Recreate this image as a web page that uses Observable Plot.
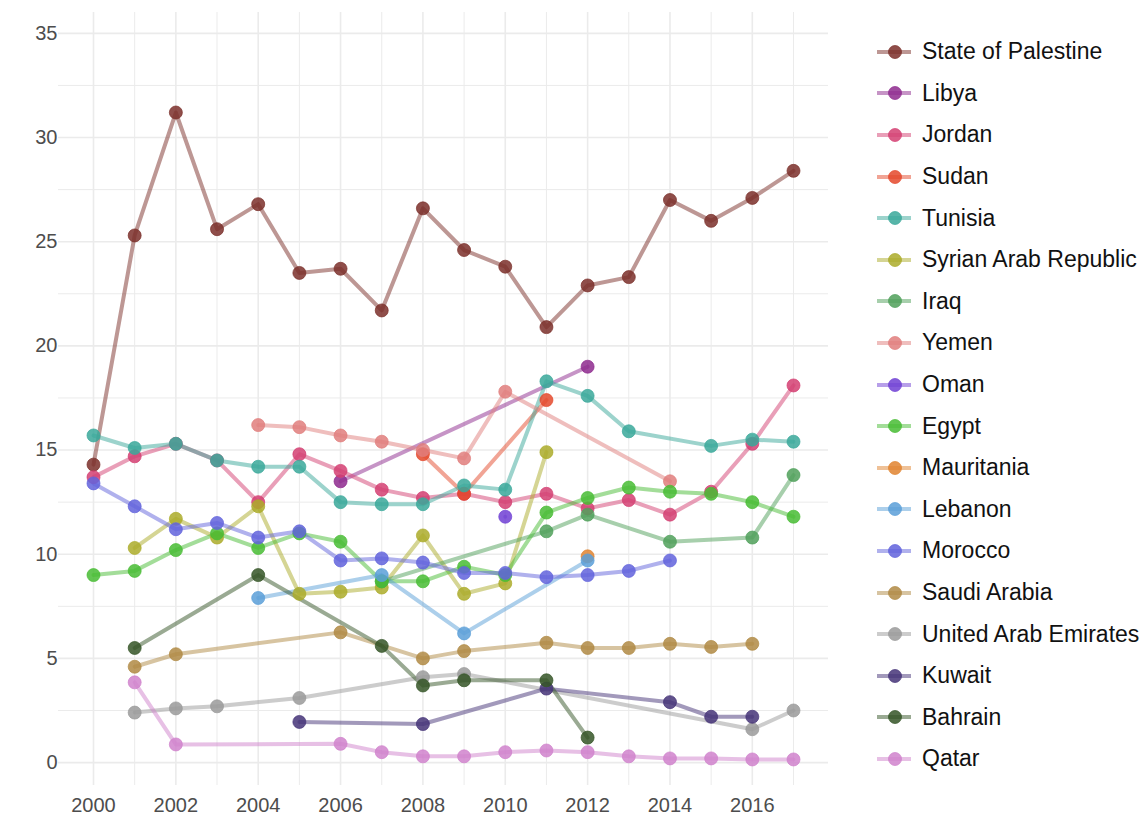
<!DOCTYPE html>
<html>
<head>
<meta charset="utf-8">
<script src="https://cdn.jsdelivr.net/npm/d3@7"></script>
<script src="https://cdn.jsdelivr.net/npm/@observablehq/plot@0.6"></script>
<style>
  html, body { margin: 0; padding: 0; background: #fff; }
  #wrap { position: relative; width: 1145px; height: 816px; font-family: "Liberation Sans", Arial, sans-serif; }
  #chart { position: absolute; left: 0; top: 0; }
  #legend { position: absolute; left: 872px; top: 0; }
  .item { position: absolute; left: 0; height: 30px; display: flex; align-items: center; white-space: nowrap; }
  .item span { font-size: 23px; color: #111; margin-left: 8px; }
</style>
</head>
<body>
<div id="wrap"><div id="chart"></div><div id="legend"></div></div>
<script>
// ---- data ----
const countries = ["State of Palestine","Libya","Jordan","Sudan","Tunisia","Syrian Arab Republic","Iraq","Yemen","Oman","Egypt","Mauritania","Lebanon","Morocco","Saudi Arabia","United Arab Emirates","Kuwait","Bahrain","Qatar"];
const colors = ["#7b2f2a","#8e2a8e","#d43f72","#e4492c","#3aa89a","#abab2a","#50a05a","#e07e7c","#7040d4","#48bc34","#e08430","#5a9fd8","#6163dc","#b08a44","#9a9a9a","#453478","#355527","#d082cc"];

const palestine = [[2000,14.3],[2001,25.3],[2002,31.2],[2003,25.6],[2004,26.8],[2005,23.5],[2006,23.7],[2007,21.7],[2008,26.6],[2009,24.6],[2010,23.8],[2011,20.9],[2012,22.9],[2013,23.3],[2014,27.0],[2015,26.0],[2016,27.1],[2017,28.4]];
const libya = [[2006,13.5],[2012,19.0]];
const jordan = [[2000,13.7],[2001,14.7],[2002,15.3],[2003,14.5],[2004,12.5],[2005,14.8],[2006,14.0],[2007,13.1],[2008,12.7],[2009,12.9],[2010,12.5],[2011,12.9],[2012,12.2],[2013,12.6],[2014,11.9],[2015,13.0],[2016,15.3],[2017,18.1]];
const sudan = [[2008,14.8],[2009,12.9],[2011,17.4]];
const tunisia = [[2000,15.7],[2001,15.1],[2002,15.3],[2003,14.5],[2004,14.2],[2005,14.2],[2006,12.5],[2007,12.4],[2008,12.4],[2009,13.3],[2010,13.1],[2011,18.3],[2012,17.6],[2013,15.9],[2015,15.2],[2016,15.5],[2017,15.4]];
const syria = [[2001,10.3],[2002,11.7],[2003,10.8],[2004,12.3],[2005,8.1],[2006,8.2],[2007,8.4],[2008,10.9],[2009,8.1],[2010,8.6],[2011,14.9]];
const iraq = [[2007,8.7],[2011,11.1],[2012,11.9],[2014,10.6],[2016,10.8],[2017,13.8]];
const yemen = [[2004,16.2],[2005,16.1],[2006,15.7],[2007,15.4],[2008,15.0],[2009,14.6],[2010,17.8],[2014,13.5]];
const oman = [[2010,11.8]];
const egypt = [[2000,9.0],[2001,9.2],[2002,10.2],[2003,11.0],[2004,10.3],[2005,11.0],[2006,10.6],[2007,8.7],[2008,8.7],[2009,9.4],[2010,9.0],[2011,12.0],[2012,12.7],[2013,13.2],[2014,13.0],[2015,12.9],[2016,12.5],[2017,11.8]];
const mauritania = [[2012,9.9]];
const lebanon = [[2004,7.9],[2007,9.0],[2009,6.2],[2012,9.7]];
const morocco = [[2000,13.4],[2001,12.3],[2002,11.2],[2003,11.5],[2004,10.8],[2005,11.1],[2006,9.7],[2007,9.8],[2008,9.6],[2009,9.1],[2010,9.1],[2011,8.9],[2012,9.0],[2013,9.2],[2014,9.7]];
const saudi = [[2001,4.6],[2002,5.2],[2006,6.25],[2008,5.0],[2009,5.35],[2011,5.75],[2012,5.5],[2013,5.5],[2014,5.7],[2015,5.55],[2016,5.7]];
const uae = [[2001,2.4],[2002,2.6],[2003,2.7],[2005,3.1],[2008,4.1],[2009,4.25],[2016,1.6],[2017,2.5]];
const kuwait = [[2005,1.95],[2008,1.85],[2011,3.55],[2014,2.9],[2015,2.2],[2016,2.2]];
const bahrain = [[2001,5.5],[2004,9.0],[2007,5.6],[2008,3.7],[2009,3.95],[2011,3.95],[2012,1.2]];
const qatar = [[2001,3.85],[2002,0.87],[2006,0.9],[2007,0.5],[2008,0.3],[2009,0.3],[2010,0.5],[2011,0.58],[2012,0.5],[2013,0.3],[2014,0.2],[2015,0.2],[2016,0.15],[2017,0.15]];

const xTicks = [2000,2002,2004,2006,2008,2010,2012,2014,2016];
const yTicks = [0,5,10,15,20,25,30,35];

// ---- build table ----
const series = [palestine,libya,jordan,sudan,tunisia,syria,iraq,yemen,oman,egypt,mauritania,lebanon,morocco,saudi,uae,kuwait,bahrain,qatar];
const rows = [];
series.forEach((s, i) => s.forEach(([year, value]) => rows.push({country: countries[i], year, value})));

const gridY = d3.range(0, 35.01, 2.5);
const gridX = d3.range(2000, 2018);

const chart = Plot.plot({
  width: 845,
  height: 816,
  marginLeft: 58,
  marginRight: 17,
  marginTop: 12,
  marginBottom: 31,
  style: {fontFamily: '"Liberation Sans", Arial, sans-serif', fontSize: "20px", background: "#fff", overflow: "visible"},
  x: {domain: [2000 - 0.85, 2017 + 0.85]},
  y: {domain: [-1.1, 36.0]},
  color: {domain: countries, range: colors},
  marks: [
    Plot.ruleY(gridY, {stroke: "#ebebeb", strokeWidth: d => d % 5 === 0 ? 1.6 : 1}),
    Plot.ruleX(gridX, {stroke: "#ebebeb", strokeWidth: d => d % 2 === 0 ? 1.6 : 1}),
    Plot.line(rows, {x: "year", y: "value", z: "country", stroke: "country", strokeWidth: 4, strokeOpacity: 0.5}),
    Plot.dot(rows, {x: "year", y: "value", fill: "country", stroke: "country", strokeOpacity: 0.9, strokeWidth: 0.8, fillOpacity: 0.85, r: 6.5}),
    Plot.axisX({ticks: xTicks, tickFormat: d => String(d), tickSize: 0, tickPadding: 12, fill: "#4d4d4d", label: null}),
    Plot.axisY({ticks: yTicks, tickSize: 0, tickPadding: 1, fill: "#4d4d4d", label: null})
  ]
});
document.getElementById("chart").appendChild(chart);

// ---- legend ----
const legend = document.getElementById("legend");
countries.forEach((c, i) => {
  const cy = 51.7 + i * 41.6;
  const div = document.createElement("div");
  div.className = "item";
  div.style.top = (cy - 15) + "px";
  div.innerHTML = `<svg width="42" height="30"><line x1="5" x2="39" y1="15" y2="15" stroke="${colors[i]}" stroke-width="4" stroke-opacity="0.5"/><circle cx="23" cy="15" r="6.5" fill="${colors[i]}" fill-opacity="0.85" stroke="${colors[i]}" stroke-opacity="0.9" stroke-width="0.8"/></svg><span>${c}</span>`;
  legend.appendChild(div);
});
</script>
</body>
</html>
